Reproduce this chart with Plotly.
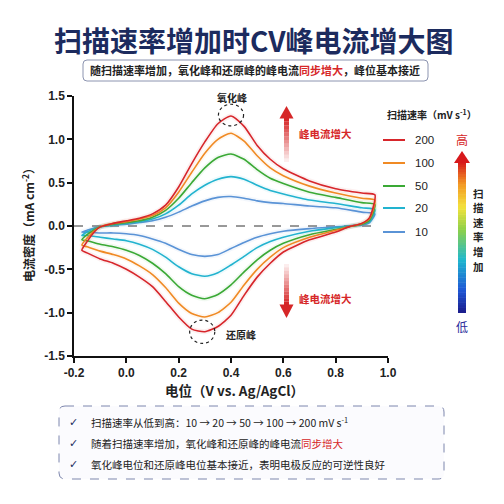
import plotly.graph_objects as go
from plotly.colors import find_intermediate_color, hex_to_rgb

# ---------------- data ----------------
scan_rates = ["200", "100", "50", "20", "10"]          # mV s^-1
line_colors = ["#d7262b", "#f08a24", "#3aa935", "#22b3cf", "#5a93d6"]

# anodic (forward) sweep potentials, V vs Ag/AgCl
e_fwd = [-0.17, -0.15, -0.12, -0.10, -0.05, 0.00, 0.05, 0.10, 0.15, 0.20, 0.25,
         0.30, 0.35, 0.40, 0.45, 0.50, 0.55, 0.60, 0.70, 0.80, 0.90, 0.95]
# cathodic (reverse) sweep potentials
e_rev = [0.95, 0.93, 0.90, 0.85, 0.80, 0.70, 0.60, 0.55, 0.50, 0.45, 0.40, 0.35,
         0.30, 0.25, 0.20, 0.15, 0.10, 0.05, 0.00, -0.05, -0.10, -0.15, -0.17]

# current density, mA cm^-2
j_fwd_200 = [-0.28, -0.18, -0.06, -0.01, 0.03, 0.06, 0.09, 0.14, 0.24, 0.45, 0.72,
             0.97, 1.18, 1.27, 1.15, 0.93, 0.77, 0.66, 0.52, 0.43, 0.38, 0.36]
j_fwd_100 = [-0.22, -0.14, -0.05, -0.01, 0.03, 0.05, 0.08, 0.12, 0.21, 0.39, 0.62,
             0.84, 1.00, 1.07, 0.98, 0.81, 0.67, 0.58, 0.46, 0.38, 0.32, 0.30]
j_fwd_50 = [-0.16, -0.10, -0.04, -0.01, 0.02, 0.04, 0.06, 0.10, 0.18, 0.32, 0.50,
            0.67, 0.79, 0.83, 0.77, 0.65, 0.55, 0.49, 0.39, 0.33, 0.27, 0.25]
j_fwd_20 = [-0.11, -0.07, -0.03, -0.01, 0.01, 0.03, 0.05, 0.08, 0.14, 0.24, 0.37,
            0.47, 0.54, 0.57, 0.54, 0.47, 0.41, 0.37, 0.30, 0.26, 0.21, 0.19]
j_fwd_10 = [-0.07, -0.05, -0.02, -0.01, 0.01, 0.02, 0.04, 0.06, 0.10, 0.16, 0.23,
            0.29, 0.33, 0.34, 0.32, 0.29, 0.27, 0.26, 0.23, 0.21, 0.16, 0.14]

j_rev_200 = [0.36, 0.10, 0.03, -0.01, -0.07, -0.16, -0.30, -0.43, -0.59, -0.80, -1.03,
             -1.16, -1.22, -1.19, -1.05, -0.87, -0.70, -0.59, -0.50, -0.43, -0.38, -0.31, -0.28]
j_rev_100 = [0.30, 0.09, 0.03, -0.01, -0.05, -0.13, -0.25, -0.36, -0.50, -0.68, -0.88,
             -1.00, -1.05, -1.01, -0.89, -0.71, -0.56, -0.46, -0.38, -0.33, -0.29, -0.24, -0.22]
j_rev_50 = [0.25, 0.07, 0.02, -0.01, -0.04, -0.10, -0.20, -0.28, -0.39, -0.53, -0.68,
            -0.79, -0.84, -0.80, -0.70, -0.55, -0.43, -0.34, -0.28, -0.24, -0.21, -0.17, -0.16]
j_rev_20 = [0.19, 0.05, 0.02, 0.00, -0.02, -0.06, -0.13, -0.18, -0.25, -0.35, -0.45,
            -0.54, -0.58, -0.55, -0.47, -0.36, -0.27, -0.21, -0.17, -0.15, -0.13, -0.11, -0.11]
j_rev_10 = [0.14, 0.04, 0.01, 0.00, -0.01, -0.03, -0.06, -0.09, -0.13, -0.19, -0.26,
            -0.33, -0.35, -0.33, -0.27, -0.20, -0.15, -0.11, -0.09, -0.08, -0.08, -0.07, -0.07]

j_fwd = [j_fwd_200, j_fwd_100, j_fwd_50, j_fwd_20, j_fwd_10]
j_rev = [j_rev_200, j_rev_100, j_rev_50, j_rev_20, j_rev_10]

x_tick_vals = [-0.2, 0.0, 0.2, 0.4, 0.6, 0.8, 1.0]
x_tick_text = ["-0.2", "0.0", "0.2", "0.4", "0.6", "0.8", "1.0"]
y_tick_vals = [-1.5, -1.0, -0.5, 0.0, 0.5, 1.0, 1.5]
y_tick_text = ["-1.5", "-1.0", "-0.5", "0.0", "0.5", "1.0", "1.5"]

ox_peak = (0.40, 1.28)
red_peak = (0.29, -1.22)

# ---------------- layout helpers (pixel -> paper) ----------------
W = H = 504
L, R, T, B = 74, 388, 96, 356
def px(x):
    return (x - L) / (R - L)
def py(y):
    return (B - y) / (B - T)

CJK = "Noto Sans CJK SC"
LAT = "Liberation Sans"
DARK = "#222222"
NAVY = "#1c2b5e"
RED = "#d62728"

def rgba(hexc, a):
    r, g, b = hex_to_rgb(hexc)
    return f"rgba({r},{g},{b},{a})"

def rrect(x0, y0, x1, y1, r):
    return (f"M {px(x0+r)},{py(y0)} L {px(x1-r)},{py(y0)} Q {px(x1)},{py(y0)} {px(x1)},{py(y0+r)} "
            f"L {px(x1)},{py(y1-r)} Q {px(x1)},{py(y1)} {px(x1-r)},{py(y1)} "
            f"L {px(x0+r)},{py(y1)} Q {px(x0)},{py(y1)} {px(x0)},{py(y1-r)} "
            f"L {px(x0)},{py(y0+r)} Q {px(x0)},{py(y0)} {px(x0+r)},{py(y0)} Z")

def label(x, y, text, size, color=DARK, family=CJK, xanchor="center", **kw):
    return dict(xref="paper", yref="paper", x=px(x), y=py(y), text=text, showarrow=False,
                xanchor=xanchor, yanchor="middle", font=dict(family=family, size=size, color=color), **kw)

fig = go.Figure()

# curves: draw low rate first so red sits on top
for k in reversed(range(len(scan_rates))):
    xs = e_fwd + e_rev[1:]
    ys = j_fwd[k] + j_rev[k][1:]
    fig.add_trace(go.Scatter(x=xs, y=ys, mode="lines",
                             line=dict(color=rgba(line_colors[k], 0.07), width=5, shape="spline", smoothing=0.6),
                             hoverinfo="skip", showlegend=False))
    fig.add_trace(go.Scatter(x=xs, y=ys, mode="lines", name=scan_rates[k],
                             line=dict(color=line_colors[k], width=1.6, shape="spline", smoothing=0.6),
                             showlegend=False))

shapes = []
annotations = []

# zero dashed line
shapes.append(dict(type="line", xref="x", yref="y", x0=-0.2, x1=0.95, y0=0, y1=0,
                   line=dict(color="#333333", width=1, dash="dash"), layer="below"))

# dashed circles on peaks
shapes.append(dict(type="circle", xref="x", yref="y",
                   x0=ox_peak[0] - 0.048, x1=ox_peak[0] + 0.048,
                   y0=ox_peak[1] - 0.125, y1=ox_peak[1] + 0.125,
                   line=dict(color="#222222", width=1.2, dash="dot")))
shapes.append(dict(type="circle", xref="x", yref="y",
                   x0=red_peak[0] - 0.048, x1=red_peak[0] + 0.048,
                   y0=red_peak[1] - 0.135, y1=red_peak[1] + 0.135,
                   line=dict(color="#222222", width=1.2, dash="dot")))
annotations.append(label(232, 97, "<b>氧化峰</b>", 10))
annotations.append(label(224, 334, "<b>还原峰</b>", 10, xanchor="left"))

# red arrows inside plot (shaft fades away from head)
ax0, ax1 = 284, 289
n = 12
for i in range(n):
    a = (i + 1) / n
    y0 = 162 - (162 - 118) * i / n
    y1 = 162 - (162 - 118) * (i + 1) / n
    shapes.append(dict(type="rect", xref="paper", yref="paper", x0=px(ax0), x1=px(ax1),
                       y0=py(y0), y1=py(y1), line=dict(width=0), fillcolor=rgba(RED, a)))
    y0 = 264 + (305 - 264) * i / n
    y1 = 264 + (305 - 264) * (i + 1) / n
    shapes.append(dict(type="rect", xref="paper", yref="paper", x0=px(ax0), x1=px(ax1),
                       y0=py(y0), y1=py(y1), line=dict(width=0), fillcolor=rgba(RED, a)))
shapes.append(dict(type="path", xref="paper", yref="paper",
                   path=f"M {px(279.5)},{py(118.5)} L {px(293.5)},{py(118.5)} L {px(286.5)},{py(106)} Z",
                   fillcolor=RED, line=dict(width=0)))
shapes.append(dict(type="path", xref="paper", yref="paper",
                   path=f"M {px(279.5)},{py(304.5)} L {px(293.5)},{py(304.5)} L {px(286.5)},{py(318)} Z",
                   fillcolor=RED, line=dict(width=0)))
for yy in (133, 298):
    annotations.append(label(297, yy, "<b>峰电流增大</b>", 10.5, color=RED, xanchor="left"))

# custom legend
annotations.append(label(432, 115, "<b>扫描速率（mV s<sup>-1</sup>）</b>", 10))
leg_y = [140, 163, 186, 208, 232]
for k, rate in enumerate(scan_rates):
    shapes.append(dict(type="line", xref="paper", yref="paper", x0=px(383), x1=px(405),
                       y0=py(leg_y[k]), y1=py(leg_y[k]), line=dict(color=line_colors[k], width=2)))
    annotations.append(label(413, leg_y[k], rate, 11.5, family=LAT, xanchor="left"))

# gradient "speed" bar
stops = [(0.0, "#1b1b8a"), (0.15, "#1f57d6"), (0.35, "#1fb8cf"), (0.55, "#8ed04a"),
         (0.70, "#f4e23c"), (0.85, "#f39a24"), (1.0, "#d7191c")]
def grad(t):
    for (t0, c0), (t1, c1) in zip(stops[:-1], stops[1:]):
        if t0 <= t <= t1:
            f = (t - t0) / (t1 - t0)
            c = find_intermediate_color(hex_to_rgb(c0), hex_to_rgb(c1), f)
            return f"rgb({int(c[0])},{int(c[1])},{int(c[2])})"
    return stops[-1][1]
gb_top, gb_bot = 162, 313
m = 60
for i in range(m):
    y0 = gb_bot - (gb_bot - gb_top) * i / m
    y1 = gb_bot - (gb_bot - gb_top) * (i + 1) / m
    shapes.append(dict(type="rect", xref="paper", yref="paper", x0=px(458), x1=px(466),
                       y0=py(y0), y1=py(y1 - 0.5), line=dict(width=0), fillcolor=grad((i + 0.5) / m)))
shapes.append(dict(type="path", xref="paper", yref="paper",
                   path=f"M {px(454)},{py(163)} L {px(470)},{py(163)} L {px(462)},{py(151)} Z",
                   fillcolor="#d7191c", line=dict(width=0)))
annotations.append(label(462, 139, "高", 12, color=RED))
annotations.append(label(462, 326, "低", 12, color="#2a2a9a"))
vert_chars = ["扫", "描", "速", "率", "增", "加"]
vert_y = [193, 207.6, 222.2, 236.8, 251.4, 266]
for ch, yy in zip(vert_chars, vert_y):
    annotations.append(label(478, yy, f"<b>{ch}</b>", 10.5, borderpad=0))

# title + subtitle box
annotations.append(label(253, 40, "<b>扫描速率增加时CV峰电流增大图</b>", 28, color=NAVY))
shapes.append(dict(type="path", xref="paper", yref="paper", path=rrect(83, 60, 428, 81, 4),
                   fillcolor="white", line=dict(color="#8c94b0", width=1)))
annotations.append(label(255, 70.5,
                         "<b>随扫描速率增加，氧化峰和还原峰的峰电流<span style='color:#d62728'>同步增大</span>，峰位基本接近</b>",
                         11))

# axis titles
annotations.append(label(28, 222, "<b>电流密度（mA cm<sup>-2</sup>）</b>", 12, textangle=-90))
annotations.append(label(234, 390, "<b>电位（V vs. Ag/AgCl）</b>", 13.5))

# bottom notes box
shapes.append(dict(type="path", xref="paper", yref="paper", path=rrect(59, 406, 444, 479, 6),
                   fillcolor="#fbfbfe", line=dict(color="#7d86ad", width=1, dash="dash")))
notes = [
    "扫描速率从低到高：10 → 20 → 50 → 100 → 200 mV s<sup>-1</sup>",
    "随着扫描速率增加，氧化峰和还原峰的峰电流<span style='color:#d62728'>同步增大</span>",
    "氧化峰电位和还原峰电位基本接近，表明电极反应的可逆性良好",
]
note_y = [422, 443, 464]
for t, yy in zip(notes, note_y):
    annotations.append(label(73, yy, "<b>✓</b>", 11, color=NAVY, family="DejaVu Sans"))
    annotations.append(label(89, yy, t, 10.5, xanchor="left"))

axis_common = dict(showline=True, linecolor="#111111", linewidth=1.5, ticks="outside", ticklen=5,
                   tickwidth=1.5, tickcolor="#111111", showgrid=False, zeroline=False,
                   tickfont=dict(family=LAT, size=12, color=DARK, weight="bold"), mirror=False)

fig.update_layout(
    width=W, height=H, autosize=False,
    margin=dict(l=L, r=W - R, t=T, b=H - B),
    paper_bgcolor="white", plot_bgcolor="white",
    xaxis=dict(range=[-0.2, 1.0], tickvals=x_tick_vals, ticktext=x_tick_text, **axis_common),
    yaxis=dict(range=[-1.5, 1.5], tickvals=y_tick_vals, ticktext=y_tick_text, **axis_common),
    shapes=shapes, annotations=annotations, showlegend=False,
)

fig.write_html("out.html", config={"displayModeBar": False},
               post_script="document.body.style.margin='0px';")
